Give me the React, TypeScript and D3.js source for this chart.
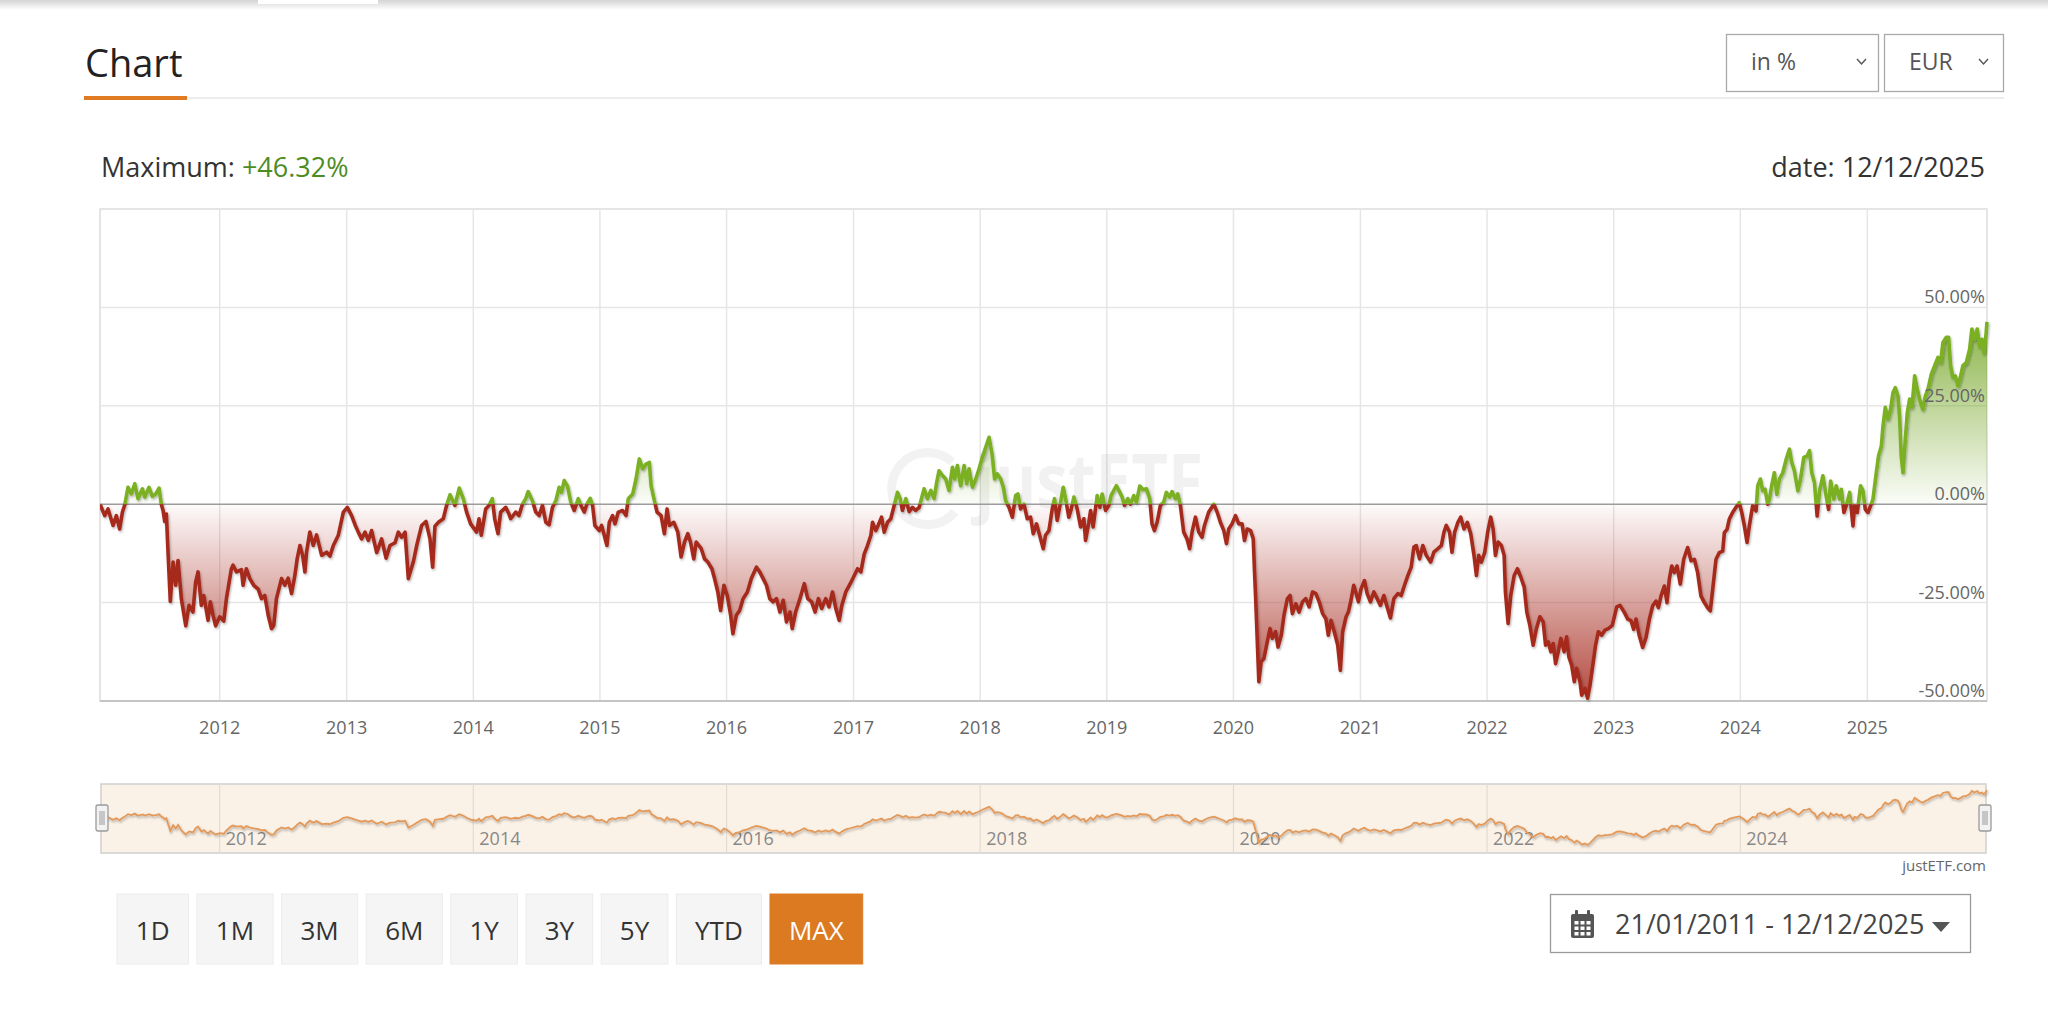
import * as d3 from "d3";
import React from "react";

type Pt = [number, number];
type Datum = { d: Date; v: number };

// [decimal year, % change], split by period
const s2011_2013: Pt[] = [
  [2011.055, 0], [2011.092, -2.9], [2011.118, -1.2], [2011.158, -5.4], [2011.184, -2.9], [2011.21, -6.3],
  [2011.232, -2.0], [2011.25, -0.2], [2011.276, 4.3], [2011.303, 2.6], [2011.329, 5.2], [2011.355, 1.4],
  [2011.39, 3.9], [2011.408, 1.8], [2011.442, 4.3], [2011.468, 2.0], [2011.495, 2.6], [2011.521, 4.1],
  [2011.539, 0], [2011.553, -1.6], [2011.566, -4.4], [2011.579, -2.5], [2011.592, -12.2], [2011.61, -24.7],
  [2011.632, -14.7], [2011.653, -20.6], [2011.671, -14.3], [2011.697, -24], [2011.732, -30.9], [2011.758, -25.7],
  [2011.789, -27.4], [2011.81, -19.8], [2011.829, -17.2], [2011.855, -25.7], [2011.874, -23.2], [2011.908, -29.5],
  [2011.926, -24.8], [2011.947, -28.2], [2011.968, -30.9], [2012.0, -28.6], [2012.032, -29.7], [2012.053, -24],
  [2012.092, -16.4], [2012.105, -15.5], [2012.132, -17.2], [2012.171, -16.6], [2012.184, -20.6], [2012.21, -16.4],
  [2012.237, -18.9], [2012.268, -20.6], [2012.303, -21.6], [2012.329, -24], [2012.355, -23.2], [2012.382, -28.2],
  [2012.408, -31.6], [2012.426, -30.8], [2012.447, -24], [2012.487, -18.9], [2012.513, -20.6], [2012.539, -18.8],
  [2012.566, -22.7], [2012.592, -18.1], [2012.61, -13.9], [2012.632, -10.5], [2012.653, -13], [2012.671, -17.2],
  [2012.684, -12.2], [2012.71, -7.1], [2012.737, -10.5], [2012.763, -7.8], [2012.803, -13], [2012.842, -12.2],
  [2012.868, -13.2], [2012.895, -10.5], [2012.934, -7.9], [2012.974, -2.0], [2013.005, -0.8], [2013.039, -2.9],
  [2013.066, -5.2], [2013.092, -7.1], [2013.118, -8.8], [2013.145, -7.1], [2013.171, -9.2], [2013.197, -6.7],
  [2013.237, -12.3], [2013.276, -8.8], [2013.311, -13.7], [2013.342, -10.5], [2013.382, -9.8], [2013.408, -7.1],
  [2013.434, -8.4], [2013.461, -7.1], [2013.487, -18.9], [2013.526, -14.7], [2013.553, -10.5], [2013.592, -5.4],
  [2013.626, -4.4], [2013.658, -8.8], [2013.679, -16], [2013.697, -5.6], [2013.724, -4.6], [2013.763, -3.7],
  [2013.789, -0.3], [2013.816, 2.4], [2013.855, -0.3], [2013.889, 4.1], [2013.921, 1.4], [2013.947, -2.0],
  [2013.979, -5.0],
];

const s2014_2016: Pt[] = [
  [2014.026, -7.1], [2014.045, -3.7], [2014.063, -7.9], [2014.098, -1.2], [2014.124, -0.3], [2014.15, 1.4],
  [2014.169, -3.7], [2014.195, -7.5], [2014.216, -2], [2014.256, -0.8], [2014.282, -2.5], [2014.295, -3.7],
  [2014.335, -2], [2014.36, -2.9], [2014.388, 0], [2014.414, 1.4], [2014.433, 3.2], [2014.467, 0.9],
  [2014.493, -2], [2014.52, -2.9], [2014.546, -0.3], [2014.573, -4.6], [2014.599, -5.2], [2014.625, -0.8],
  [2014.652, 0.9], [2014.678, 4.3], [2014.697, 3], [2014.718, 6], [2014.744, 4.6], [2014.77, 0.5],
  [2014.797, -1.6], [2014.829, 1.4], [2014.85, -0.3], [2014.876, -2], [2014.897, 0], [2014.923, 1.5],
  [2014.942, -0.3], [2014.96, -5.4], [2014.995, -6.7], [2015.013, -5.4], [2015.034, -7.9], [2015.055, -10.5],
  [2015.074, -4.6], [2015.1, -2.9], [2015.119, -5], [2015.145, -2], [2015.179, -1.6], [2015.206, -2.9],
  [2015.224, 1.4], [2015.259, 2.6], [2015.285, 6.4], [2015.311, 11.5], [2015.338, 9], [2015.364, 10.2],
  [2015.39, 10.6], [2015.404, 4.7], [2015.43, 0.9], [2015.451, -2], [2015.483, -2.9], [2015.509, -7.5],
  [2015.53, -1.2], [2015.549, -5.4], [2015.583, -4.6], [2015.615, -7.1], [2015.641, -13.4], [2015.668, -9.6],
  [2015.694, -7.5], [2015.715, -9.6], [2015.741, -13.9], [2015.76, -9.6], [2015.8, -11.3], [2015.826, -13.9],
  [2015.852, -14.7], [2015.884, -16.4], [2015.905, -18.9], [2015.931, -22.3], [2015.953, -27], [2015.979, -20.6],
  [2016.005, -23.2], [2016.032, -28.2], [2016.05, -32.9], [2016.077, -28.2], [2016.103, -27], [2016.13, -24],
  [2016.164, -22.3], [2016.195, -18.9], [2016.235, -16], [2016.261, -17.2], [2016.288, -18.9], [2016.314, -20.6],
  [2016.34, -24], [2016.367, -24.8], [2016.393, -24], [2016.42, -27.4], [2016.446, -24.4], [2016.472, -29.9],
  [2016.499, -27.4], [2016.517, -31.6], [2016.544, -27.4], [2016.578, -24], [2016.612, -20.2], [2016.639, -24],
  [2016.67, -24.8], [2016.697, -27.4], [2016.723, -24], [2016.749, -26.5], [2016.781, -24], [2016.807, -26.1],
  [2016.834, -22.3], [2016.86, -26.5], [2016.887, -29.5], [2016.908, -25.7], [2016.939, -22.3], [2016.974, -20.2],
];

const s2017_2019: Pt[] = [
  [2017.032, -16.4], [2017.058, -17.2], [2017.084, -12.7], [2017.11, -10.5], [2017.137, -7.9], [2017.15, -4.6],
  [2017.176, -6.7], [2017.194, -5.4], [2017.221, -3.3], [2017.242, -7.1], [2017.268, -4.6], [2017.294, -3.7],
  [2017.321, -0.3], [2017.347, 3], [2017.368, 1.4], [2017.386, -1.6], [2017.413, 1.4], [2017.439, -1.9],
  [2017.465, -0.8], [2017.491, -1.6], [2017.518, -0.8], [2017.536, 1.4], [2017.557, 3.9], [2017.583, 1.4],
  [2017.61, 3.5], [2017.636, 1.4], [2017.657, 5.6], [2017.675, 8.5], [2017.702, 7.3], [2017.728, 6.4],
  [2017.754, 3.5], [2017.781, 9.4], [2017.799, 6.4], [2017.82, 9.8], [2017.846, 4.7], [2017.873, 9.8],
  [2017.894, 5.2], [2017.912, 9], [2017.939, 4.3], [2017.965, 6.4], [2017.991, 9], [2018.017, 11.9],
  [2018.043, 14.4], [2018.07, 17], [2018.096, 12.3], [2018.114, 6.4], [2018.135, 7.7], [2018.162, 6.4],
  [2018.183, 4.3], [2018.201, 0.9], [2018.228, -0.8], [2018.254, -3.3], [2018.28, 2.2], [2018.298, 2.6],
  [2018.319, -1.2], [2018.346, 0], [2018.372, -3.7], [2018.398, -3.3], [2018.419, -7.5], [2018.445, -5],
  [2018.477, -8.8], [2018.498, -11.3], [2018.516, -7.9], [2018.543, -6.7], [2018.569, -1.2], [2018.587, 1.4],
  [2018.608, -4.1], [2018.635, 0.5], [2018.656, 4.3], [2018.674, 1.4], [2018.7, -3.3], [2018.719, -1.2],
  [2018.74, 1.8], [2018.766, -1.2], [2018.793, -5.8], [2018.819, -3.7], [2018.832, -9.2], [2018.858, -4.6],
  [2018.872, -1.6], [2018.892, -5.8], [2018.924, 2.2], [2018.945, -0.8], [2018.963, 2.6], [2018.99, -1.6],
  [2019.016, -0.3], [2019.034, 2.2], [2019.055, 3.5], [2019.076, 4.7], [2019.103, 3], [2019.121, 1.8],
  [2019.139, -0.3], [2019.166, 1.4], [2019.187, 0], [2019.213, 2.2], [2019.234, 0.5], [2019.26, 4.6],
  [2019.287, 3.7], [2019.313, 3.9], [2019.339, 1.4], [2019.357, -5], [2019.376, -6.7], [2019.397, -4.6],
  [2019.423, -0.3], [2019.449, 0.5], [2019.47, 3], [2019.497, 1.8], [2019.515, 3.2], [2019.541, 1.4],
  [2019.56, 2.6], [2019.581, -0.3], [2019.607, -7.1], [2019.633, -8.8], [2019.654, -11.3], [2019.673, -7.1],
  [2019.7, -3.3], [2019.726, -7.1], [2019.752, -8.4], [2019.771, -5.4], [2019.805, -2], [2019.845, 0],
  [2019.871, -2], [2019.897, -4.6], [2019.924, -6.7], [2019.945, -10], [2019.963, -6.3], [2019.989, -5],
  [2020.016, -2.9], [2020.042, -5],
];

const s2020_2022: Pt[] = [
  [2020.068, -5], [2020.087, -9.2], [2020.108, -6.3], [2020.135, -6.7], [2020.156, -8.8], [2020.166, -17.2],
  [2020.174, -23.2], [2020.2, -45.1], [2020.219, -40], [2020.24, -39.2], [2020.261, -35.8], [2020.288, -31.6],
  [2020.306, -34.1], [2020.332, -32.4], [2020.351, -36.3], [2020.377, -33.3], [2020.398, -28.2], [2020.425, -24],
  [2020.446, -23.2], [2020.464, -27.8], [2020.491, -25.3], [2020.517, -27.4], [2020.544, -24.8], [2020.57, -24],
  [2020.596, -26.1], [2020.623, -22.3], [2020.649, -22.7], [2020.675, -24.8], [2020.702, -27.8], [2020.728, -29.1],
  [2020.747, -33.3], [2020.768, -29.5], [2020.794, -32.4], [2020.821, -35.8], [2020.842, -42.2], [2020.86, -32.4],
  [2020.887, -28.6], [2020.905, -27.4], [2020.926, -24.4], [2020.947, -20.6], [2020.966, -22.7], [2020.984, -24.8],
  [2021.005, -21.5], [2021.032, -19.4], [2021.053, -22.7], [2021.079, -24.8], [2021.106, -22.3], [2021.132, -24],
  [2021.158, -25.7], [2021.185, -23.2], [2021.211, -26.1], [2021.237, -28.9], [2021.264, -24], [2021.296, -22.7],
  [2021.322, -23.2], [2021.348, -20.6], [2021.375, -18.1], [2021.401, -16], [2021.422, -10.9], [2021.441, -10.5],
  [2021.467, -13.9], [2021.493, -10.5], [2021.52, -13], [2021.554, -14.7], [2021.58, -12.2], [2021.612, -11.3],
  [2021.639, -10.5], [2021.66, -7.1], [2021.678, -5.4], [2021.704, -7.1], [2021.723, -12.2], [2021.744, -7.1],
  [2021.77, -4.6], [2021.792, -3.3], [2021.818, -6.3], [2021.844, -4.6], [2021.871, -7.5], [2021.897, -13],
  [2021.916, -18.1], [2021.934, -13], [2021.955, -14.7], [2021.982, -12.2], [2022.005, -7.1], [2022.029, -3.3],
  [2022.048, -6.3], [2022.066, -13], [2022.087, -9.6], [2022.113, -10.5], [2022.135, -13], [2022.145, -22.3],
  [2022.166, -30.3], [2022.187, -23.2], [2022.214, -18.1], [2022.24, -16.4], [2022.266, -18.5], [2022.293, -21],
  [2022.314, -27.4], [2022.338, -30.8], [2022.364, -35.8], [2022.39, -31.6], [2022.417, -28.6], [2022.443, -29.9],
  [2022.462, -35.8], [2022.483, -35], [2022.504, -37.5], [2022.522, -35.4], [2022.541, -40.5], [2022.562, -37.5],
  [2022.583, -34.1], [2022.609, -37.5], [2022.628, -33.7], [2022.646, -38.8], [2022.668, -40.9], [2022.689, -45.1],
  [2022.707, -41.7], [2022.734, -45.1], [2022.747, -48.5], [2022.773, -46.8], [2022.794, -49.3], [2022.813, -46],
  [2022.839, -40], [2022.857, -35.8], [2022.879, -32.4], [2022.905, -33.3], [2022.931, -32], [2022.958, -31.6],
  [2022.989, -30.8], [2023.024, -26.1], [2023.05, -25.7],
];

const s2023_2025: Pt[] = [
  [2023.084, -27.5], [2023.111, -29.2], [2023.137, -29.6], [2023.158, -31.8], [2023.176, -29.2], [2023.203, -33.5],
  [2023.229, -36.4], [2023.255, -33.9], [2023.282, -29.2], [2023.308, -25.8], [2023.334, -24.6], [2023.353, -26.3],
  [2023.374, -23.3], [2023.4, -20.8], [2023.421, -25], [2023.439, -19.1], [2023.458, -15.7], [2023.479, -17.4],
  [2023.5, -15.7], [2023.526, -20.3], [2023.553, -14], [2023.584, -11], [2023.611, -14.4], [2023.637, -14],
  [2023.663, -17.4], [2023.689, -23.3], [2023.716, -25], [2023.742, -26.3], [2023.763, -27.1], [2023.782, -21.6],
  [2023.808, -14], [2023.834, -12.3], [2023.861, -11.9], [2023.874, -7.2], [2023.895, -6.4], [2023.913, -3.8],
  [2023.939, -2.1], [2023.966, -0.8], [2023.992, 0.4], [2024.011, -2.1], [2024.032, -5.5], [2024.053, -9.7],
  [2024.071, -5.5], [2024.097, -0.4], [2024.124, -1.7], [2024.137, 4.7], [2024.158, 6.4], [2024.176, 3.4],
  [2024.195, 3.8], [2024.216, 0], [2024.229, 1.3], [2024.247, 4.7], [2024.268, 8], [2024.287, 2.5],
  [2024.308, 6.4], [2024.334, 8], [2024.361, 11.4], [2024.387, 14], [2024.405, 10.6], [2024.426, 8.5],
  [2024.453, 3.4], [2024.474, 6.4], [2024.5, 11.9], [2024.526, 12.3], [2024.545, 13.6], [2024.563, 8],
  [2024.584, 5.5], [2024.605, -3], [2024.624, 3.4], [2024.65, 7.2], [2024.676, 2.1], [2024.695, -1.3],
  [2024.711, 5.9], [2024.737, 1.3], [2024.755, 4.7], [2024.782, 1.3], [2024.795, 3.8], [2024.816, -2.1],
  [2024.834, -0.4], [2024.861, 3], [2024.887, -5.5], [2024.9, -0.4], [2024.921, -2.1], [2024.947, 4.7],
  [2024.966, 3.4], [2024.984, -1.3], [2025.005, -2.1], [2025.026, -0.4], [2025.045, 1.3], [2025.071, 8],
  [2025.089, 12.3], [2025.111, 14.8], [2025.124, 19.9], [2025.142, 24.6], [2025.163, 21.6], [2025.184, 24.1],
  [2025.203, 28.4], [2025.221, 29.6], [2025.242, 27.5], [2025.255, 22.4], [2025.268, 12.3], [2025.282, 8],
  [2025.3, 16.5], [2025.316, 23.3], [2025.334, 26.7], [2025.353, 24.6], [2025.374, 32.6], [2025.395, 29.2],
  [2025.413, 26.7], [2025.439, 24.1], [2025.458, 27.5], [2025.479, 29.2], [2025.505, 33], [2025.532, 35.2],
  [2025.558, 37.3], [2025.579, 36], [2025.597, 41.1], [2025.624, 42.4], [2025.642, 42.4], [2025.658, 35.2],
  [2025.676, 32.2], [2025.695, 32.6], [2025.716, 30.1], [2025.737, 32.6], [2025.755, 35.2], [2025.782, 36],
  [2025.808, 39.4], [2025.826, 44.5], [2025.847, 41.9], [2025.868, 44.5], [2025.887, 40.2], [2025.905, 41.9],
  [2025.921, 38.5], [2025.939, 43.6], [2025.945, 46.3],
];

const yTicks = [-50, -25, 0, 25, 50];
const yearTicks = [2012, 2013, 2014, 2015, 2016, 2017, 2018, 2019, 2020, 2021, 2022, 2023, 2024, 2025];
const navYearTicks = [2012, 2014, 2016, 2018, 2020, 2022, 2024];
const rangeButtons = ["1D", "1M", "3M", "6M", "1Y", "3Y", "5Y", "YTD", "MAX"];
const activeRange = "MAX";
const maxValue = "+46.32%";
const lastDate = "12/12/2025";
const dateRange = "21/01/2011 - 12/12/2025";

const FONT = "'Open Sans', 'Noto Sans', sans-serif";
const W = 2048;
const H = 1019;
const PLOT = { left: 100, right: 1987, top: 209, bottom: 701 };
const NAV = { left: 101, right: 1986, top: 784, bottom: 853 };
const RED = "#a62a1e";
const GREEN = "#7ab022";

const charW: Record<string, number> = {
  "1": 0.572, "3": 0.572, "5": 0.572, "6": 0.572, D: 0.733, M: 0.914, Y: 0.55, T: 0.549, A: 0.633, X: 0.577,
};

function toDate(t: number) {
  const y = Math.floor(t);
  const a = Date.UTC(y, 0, 1);
  const b = Date.UTC(y + 1, 0, 1);
  return new Date(a + (t - y) * (b - a));
}

const series: Pt[] = [...s2011_2013, ...s2014_2016, ...s2017_2019, ...s2020_2022, ...s2023_2025];

export default function App() {
  const data: Datum[] = series.map(([t, v]) => ({ d: toDate(t), v }));
  const xs = d3.scaleUtc().domain([new Date(Date.UTC(2011, 0, 21)), new Date(Date.UTC(2025, 11, 12))]).range([PLOT.left, PLOT.right]);
  const ys = d3.scaleLinear().domain([-50, 75]).range([PLOT.bottom, PLOT.top]);
  const y0 = ys(0);

  const line = d3.line<Datum>().x((d) => xs(d.d)).y((d) => ys(d.v));
  const area = d3.area<Datum>().x((d) => xs(d.d)).y0(y0).y1((d) => ys(d.v));

  const ext = d3.extent(data, (d) => d.v) as [number, number];
  const nys = d3.scaleLinear().domain(ext).range([NAV.bottom - 8, NAV.top + 6]);
  const navLine = d3.line<Datum>().x((d) => xs(d.d)).y((d) => nys(d.v));

  const yr = (y: number) => xs(new Date(Date.UTC(y, 0, 1)));
  const pct = (v: number) => `${v.toFixed(2)}%`;

  // range selector buttons
  let bx = 117;
  const buttons = rangeButtons.map((label) => {
    const w = label.split("").reduce((s, c) => s + (charW[c] || 0.6), 0) * 26 + 37.5;
    const b = { label, x: bx, w };
    bx += w + 8.5;
    return b;
  });

  const handle = (x: number) => (
    <g>
      <rect x={x - 6} y={805} width={12} height={26} rx={2} fill="#f2f2f2" stroke="#9a9a9a" strokeWidth={1.3} />
      {[-2, 0, 2].map((o) => (
        <line key={o} x1={x + o} x2={x + o} y1={811} y2={825} stroke="#9a9a9a" strokeWidth={1} />
      ))}
    </g>
  );

  return (
    <div style={{ position: "fixed", left: 0, top: 0, width: W, height: H, overflow: "hidden", background: "#fff" }}>
      <svg width={W} height={H} style={{ display: "block", fontFamily: FONT }}>
        <defs>
          <linearGradient id="topShade" x1="0" y1="0" x2="0" y2="1">
            <stop offset="0" stopColor="#d4d4d4" />
            <stop offset="1" stopColor="#ffffff" />
          </linearGradient>
          <linearGradient id="redFill" gradientUnits="userSpaceOnUse" x1="0" y1={y0} x2="0" y2={ys(-50)}>
            <stop offset="0" stopColor={RED} stopOpacity={0.02} />
            <stop offset="1" stopColor={RED} stopOpacity={0.85} />
          </linearGradient>
          <linearGradient id="greenFill" gradientUnits="userSpaceOnUse" x1="0" y1={y0} x2="0" y2={ys(50)}>
            <stop offset="0" stopColor="#78a82a" stopOpacity={0.03} />
            <stop offset="1" stopColor="#78a82a" stopOpacity={0.92} />
          </linearGradient>
          <clipPath id="above">
            <rect x={PLOT.left} y={PLOT.top - 20} width={PLOT.right - PLOT.left + 4} height={y0 - PLOT.top + 20} />
          </clipPath>
          <clipPath id="below">
            <rect x={PLOT.left} y={y0} width={PLOT.right - PLOT.left + 4} height={PLOT.bottom - y0 + 10} />
          </clipPath>
          <filter id="shadow" x="-5%" y="-10%" width="110%" height="130%">
            <feDropShadow dx={1} dy={1.5} stdDeviation={1.2} floodColor="#000" floodOpacity={0.3} />
          </filter>
        </defs>

        {/* page header */}
        <rect x={0} y={0} width={W} height={10} fill="url(#topShade)" />
        <rect x={258} y={0} width={120} height={4} fill="#fff" />
        <text x={85} y={77} fontSize={38} fill="#222" fontWeight={500}>Chart</text>
        <line x1={187} x2={2004} y1={98} y2={98} stroke="#e6e6e6" strokeWidth={1.5} />
        <rect x={84} y={96} width={103} height={4} fill="#e07b24" />

        <rect x={1726.5} y={34.5} width={152} height={57} fill="#fff" stroke="#a9a9a9" strokeWidth={1.3} />
        <text x={1751} y={70} fontSize={23} fill="#555">in %</text>
        <polyline points="1857,59 1861.5,64 1866,59" fill="none" stroke="#555" strokeWidth={1.4} />
        <rect x={1884.5} y={34.5} width={119} height={57} fill="#fff" stroke="#a9a9a9" strokeWidth={1.3} />
        <text x={1909} y={70} fontSize={23} fill="#555">EUR</text>
        <polyline points="1979,59 1983.5,64 1988,59" fill="none" stroke="#555" strokeWidth={1.4} />

        <text x={101} y={177} fontSize={27} fill="#333">
          Maximum: <tspan fill="#4e8c1f">{maxValue}</tspan>
        </text>
        <text x={1985} y={177} fontSize={27} fill="#333" textAnchor="end">date: {lastDate}</text>

        {/* plot grid */}
        <rect x={PLOT.left} y={PLOT.top} width={PLOT.right - PLOT.left} height={PLOT.bottom - PLOT.top} fill="#fff" stroke="#dcdcdc" strokeWidth={1.5} />
        {yearTicks.map((y) => (
          <line key={y} x1={yr(y)} x2={yr(y)} y1={PLOT.top} y2={PLOT.bottom} stroke="#e6e6e6" strokeWidth={1.5} />
        ))}
        {[...yTicks, 75].filter((v) => v !== 0 && v !== -50).map((v) => (
          <line key={v} x1={PLOT.left} x2={PLOT.right} y1={ys(v)} y2={ys(v)} stroke="#e6e6e6" strokeWidth={1.5} />
        ))}

        {/* watermark */}
        <g opacity={0.05} fill="none" stroke="#000">
          <path d="M 952 462 A 36 36 0 1 0 955 512" strokeWidth={9} />
        </g>
        <text x={975} y={508} fontSize={76} fontWeight={700} fill="#000" opacity={0.05} textLength={228} lengthAdjust="spacingAndGlyphs">justETF</text>

        {/* areas */}
        <path d={area(data) || ""} fill="url(#greenFill)" clipPath="url(#above)" />
        <path d={area(data) || ""} fill="url(#redFill)" clipPath="url(#below)" />

        <line x1={PLOT.left} x2={PLOT.right} y1={y0} y2={y0} stroke="#9c9c9c" strokeWidth={1.6} />
        <line x1={PLOT.left} x2={PLOT.right} y1={PLOT.bottom} y2={PLOT.bottom} stroke="#c4c4c4" strokeWidth={2} />

        {/* series */}
        <g filter="url(#shadow)">
          <path d={line(data) || ""} fill="none" stroke={GREEN} strokeWidth={3.6} strokeLinejoin="round" clipPath="url(#above)" />
          <path d={line(data) || ""} fill="none" stroke={RED} strokeWidth={3.6} strokeLinejoin="round" clipPath="url(#below)" />
        </g>

        {/* axis labels */}
        {yTicks.map((v) => (
          <text key={v} x={1985} y={ys(v) - 4} fontSize={18} fill="#666" textAnchor="end">{pct(v)}</text>
        ))}
        {yearTicks.map((y) => (
          <text key={y} x={yr(y)} y={734} fontSize={18} fill="#666" textAnchor="middle">{y}</text>
        ))}

        {/* navigator */}
        <rect x={NAV.left} y={NAV.top} width={NAV.right - NAV.left} height={NAV.bottom - NAV.top} fill="#fbf2e7" stroke="#cfcfcf" strokeWidth={1.5} />
        {navYearTicks.map((y) => (
          <g key={y}>
            <line x1={yr(y)} x2={yr(y)} y1={NAV.top} y2={NAV.bottom} stroke="#e3dbd0" strokeWidth={1.2} />
            <text x={yr(y) + 6} y={845} fontSize={18} fill="#888">{y}</text>
          </g>
        ))}
        <path d={navLine(data) || ""} fill="none" stroke="#e2995a" strokeWidth={1.8} filter="url(#shadow)" />
        {handle(NAV.left + 1)}
        {handle(NAV.right - 1)}
        <text x={1986} y={871} fontSize={15} fill="#666" textAnchor="end">justETF.com</text>

        {/* range selector */}
        {buttons.map((b) => {
          const on = b.label === activeRange;
          return (
            <g key={b.label}>
              <rect x={b.x} y={894} width={b.w} height={70} fill={on ? "#dc7a22" : "#f5f5f5"} stroke={on ? "#dc7a22" : "#ececec"} strokeWidth={1} />
              <text x={b.x + b.w / 2} y={940} fontSize={26} fill={on ? "#fff" : "#333"} textAnchor="middle">{b.label}</text>
            </g>
          );
        })}

        {/* date range picker */}
        <rect x={1550.5} y={894.5} width={420} height={58} fill="#fff" stroke="#9a9a9a" strokeWidth={1.3} />
        <g fill="#555">
          <rect x={1571} y={914} width={23} height={24} rx={2} />
          <rect x={1575} y={910} width={3} height={7} rx={1} />
          <rect x={1587} y={910} width={3} height={7} rx={1} />
          {[0, 1, 2].map((r) =>
            [0, 1, 2].map((c) => (
              <rect key={`${r}${c}`} x={1574.5 + c * 6} y={921 + r * 5.5} width={4} height={3.5} fill="#fff" />
            ))
          )}
        </g>
        <text x={1615} y={934} fontSize={27} fill="#444">{dateRange}</text>
        <polygon points="1932,922 1950,922 1941,932" fill="#555" />
      </svg>
    </div>
  );
}
